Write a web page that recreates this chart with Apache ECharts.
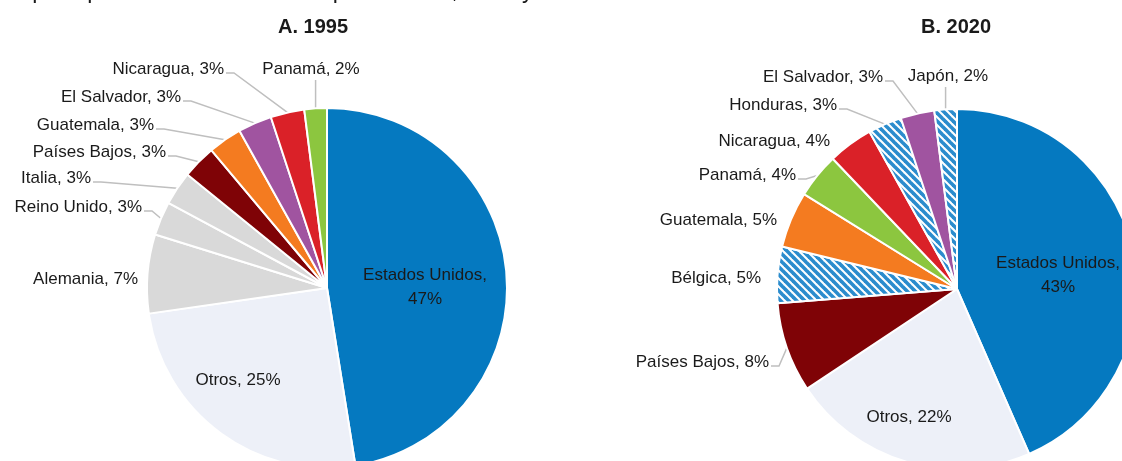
<!DOCTYPE html>
<html>
<head>
<meta charset="utf-8">
<script src="https://cdn.jsdelivr.net/npm/echarts@6/dist/echarts.min.js"></script>
<style>
  html, body { margin: 0; padding: 0; background: #fff; }
  #chart { width: 1122px; height: 461px; }
</style>
</head>
<body>
<div id="chart"></div>
<script>
// datos (%)
var paises1995 = ['Estados Unidos', 'Otros', 'Alemania', 'Reino Unido', 'Italia', 'Países Bajos', 'Guatemala', 'El Salvador', 'Nicaragua', 'Panamá'];
var valores1995 = [47, 25, 7, 3, 3, 3, 3, 3, 3, 2];

var paises2020 = ['Estados Unidos', 'Otros', 'Países Bajos', 'Bélgica', 'Guatemala', 'Panamá', 'Nicaragua', 'Honduras', 'El Salvador', 'Japón'];
var valores2020 = [43, 22, 8, 5, 5, 4, 4, 3, 3, 2];

// ubicación de las etiquetas como en el original: [x, y, alineación, con línea]
var etiq1995 = {
    'Estados Unidos': [425, 287, 'center', false],
    'Otros': [238, 380, 'center', false],
    'Alemania': [138, 279, 'right', false],
    'Reino Unido': [142, 207, 'right', true],
    'Italia': [91, 178, 'right', true],
    'Países Bajos': [166, 152, 'right', true],
    'Guatemala': [154, 125, 'right', true],
    'El Salvador': [181, 97, 'right', true],
    'Nicaragua': [224, 69, 'right', true],
    'Panamá': [311, 69, 'center', true]
};
var etiq2020 = {
    'Estados Unidos': [1058, 275, 'center', false],
    'Otros': [909, 417, 'center', false],
    'Países Bajos': [769, 362, 'right', true],
    'Bélgica': [761, 278, 'right', false],
    'Guatemala': [777, 220, 'right', false],
    'Panamá': [796, 175, 'right', true],
    'Nicaragua': [830, 141, 'right', false],
    'Honduras': [837, 105, 'right', true],
    'El Salvador': [883, 77, 'right', true],
    'Japón': [948, 76, 'center', true]
};

// rayado azul para los países nuevos
function rayado() {
    var c = document.createElement('canvas');
    c.width = 8; c.height = 8;
    var ctx = c.getContext('2d');
    ctx.fillStyle = '#ffffff';
    ctx.fillRect(0, 0, 8, 8);
    ctx.strokeStyle = '#2b8ccd';
    ctx.lineWidth = 3.6;
    for (var k = -1; k <= 1; k++) {
        ctx.beginPath();
        ctx.moveTo(-2, -2 + k * 8);
        ctx.lineTo(10, 10 + k * 8);
        ctx.stroke();
    }
    return c;
}
var patron = { image: rayado(), repeat: 'repeat' };

var colores = {
    'Estados Unidos': '#0579c0',
    'Otros': '#edf0f8',
    'Alemania': '#d9d9d9',
    'Reino Unido': '#d9d9d9',
    'Italia': '#d9d9d9',
    'Países Bajos': '#7f0306',
    'Guatemala': '#f47b20',
    'El Salvador': '#a054a0',
    'Nicaragua': '#da2128',
    'Panamá': '#8cc63f',
    'Bélgica': patron,
    'Honduras': patron,
    'Japón': patron
};

function datos(nombres, valores, etiq) {
    return nombres.map(function (n, i) {
        var d = { name: n, value: valores[i], itemStyle: { color: colores[n] } };
        if (n === 'Estados Unidos') {
            d.label = { position: 'inside', formatter: '{b},\n{c}%' };
        } else if (n === 'Otros') {
            d.label = { position: 'inside' };
        }
        if (!etiq[n][3]) {
            d.labelLine = { show: false };
        }
        return d;
    });
}

var fuente = "'Liberation Sans', Arial, sans-serif";
var nombres = [paises1995, paises2020];
var etiquetas = [etiq1995, etiq2020];

function colocar(params) {
    var n = nombres[params.seriesIndex][params.dataIndex];
    var e = etiquetas[params.seriesIndex][n];
    var out = { x: e[0], y: e[1], align: e[2], verticalAlign: 'middle' };
    var p = params.labelLinePoints;
    if (e[3] && p) {
        var borde = p[0];
        if (e[2] === 'center') {
            out.labelLinePoints = [borde, [borde[0], e[1] + 11], [borde[0], e[1] + 11]];
        } else {
            var yl = e[1] + 4;
            out.labelLinePoints = [borde, [e[0] + 10, yl], [e[0] + 2, yl]];
        }
    }
    return out;
}

function tarta(centro, nombres, valores, etiq) {
    return {
        type: 'pie',
        center: centro,
        radius: 180,
        startAngle: 90,
        clockwise: true,
        animation: false,
        avoidLabelOverlap: false,
        itemStyle: { borderColor: '#ffffff', borderWidth: 2 },
        label: {
            formatter: '{b}, {c}%',
            fontFamily: fuente,
            fontSize: 17,
            color: '#1a1a1a',
            lineHeight: 24,
            overflow: 'none'
        },
        labelLine: {
            length: 14,
            length2: 10,
            smooth: false,
            lineStyle: { color: '#bfbfbf', width: 1.5 }
        },
        labelLayout: colocar,
        emphasis: { disabled: true },
        data: datos(nombres, valores, etiq)
    };
}

var myChart = echarts.init(document.getElementById('chart'));

var option = {
    animation: false,
    textStyle: { fontFamily: fuente },
    graphic: [{
        type: 'text',
        left: -93,
        top: -20,
        style: {
            text: 'Costa Rica: principales destinos de las exportaciones, 1995 y 2020',
            font: "23px 'Liberation Sans', Arial, sans-serif",
            fill: '#1a1a1a'
        }
    }],
    title: [
        { text: 'A. 1995', left: 308, top: 12, textAlign: 'center',
          textStyle: { fontFamily: fuente, fontSize: 20, fontWeight: 'bold', color: '#1a1a1a' } },
        { text: 'B. 2020', left: 951, top: 12, textAlign: 'center',
          textStyle: { fontFamily: fuente, fontSize: 20, fontWeight: 'bold', color: '#1a1a1a' } }
    ],
    series: [
        tarta([327, 288], paises1995, valores1995, etiq1995),
        tarta([957, 289], paises2020, valores2020, etiq2020)
    ]
};

myChart.setOption(option);
</script>
</body>
</html>
